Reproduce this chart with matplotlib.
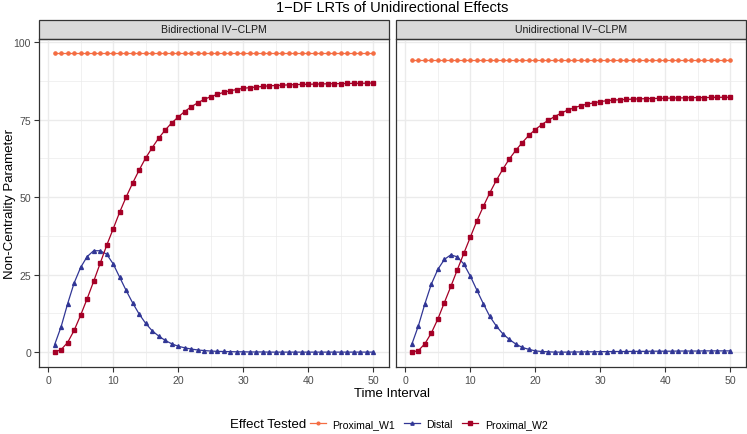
import numpy as np
import matplotlib
matplotlib.use("Agg")
import matplotlib.pyplot as plt
from matplotlib.patches import Rectangle
from matplotlib.lines import Line2D

plt.rcParams['font.family'] = ['Liberation Sans', 'DejaVu Sans']

time = np.arange(1, 51)
panels = ["Bidirectional IV\u2212CLPM", "Unidirectional IV\u2212CLPM"]
series = ["Proximal_W1", "Distal", "Proximal_W2"]
colors = {"Proximal_W1": "#F46D43", "Distal": "#313695", "Proximal_W2": "#A50026"}
markers = {"Proximal_W1": "o", "Distal": "^", "Proximal_W2": "s"}
msizes = {"Proximal_W1": 2.3, "Distal": 2.8, "Proximal_W2": 2.6}

# bidirectional panel
bi_w1 = [96.5] * 50
bi_distal = [2.4, 8.2, 15.6, 22.3, 27.3, 30.8, 32.7, 32.7, 31.6, 28.5,
             24.2, 19.9, 15.9, 12.3, 9.3, 6.9, 5.2, 3.8, 2.7, 1.9,
             1.4, 1.0, 0.7, 0.5, 0.35, 0.25, 0.2, 0.15, 0.1, 0.1,
             0.05, 0.05, 0.05, 0.0, 0.0, 0.0, 0.0, 0.0, 0.0, 0.0,
             0.0, 0.0, 0.0, 0.0, 0.0, 0.0, 0.0, 0.0, 0.0, 0.0]
bi_w2 = [0.0, 0.8, 3.1, 7.0, 11.9, 17.2, 22.8, 28.6, 34.4, 39.7,
         45.1, 50.0, 54.5, 58.7, 62.6, 65.9, 69.0, 71.6, 73.9, 75.8,
         77.6, 79.1, 80.4, 81.5, 82.4, 83.1, 83.8, 84.3, 84.7, 85.1,
         85.3, 85.5, 85.7, 85.9, 86.0, 86.1, 86.2, 86.3, 86.35, 86.4,
         86.45, 86.5, 86.55, 86.6, 86.6, 86.65, 86.7, 86.7, 86.75, 86.8]

# unidirectional panel
uni_w1 = [94.1] * 50
uni_distal = [2.6, 8.5, 15.6, 22.0, 26.7, 29.9, 31.4, 30.7, 28.4, 24.5,
              20.0, 15.6, 11.5, 8.4, 5.9, 4.1, 2.6, 1.5, 0.9, 0.4,
              0.2, 0.1, 0.0, 0.0, 0.0, 0.05, 0.05, 0.1, 0.1, 0.15,
              0.15, 0.2, 0.2, 0.2, 0.25, 0.25, 0.25, 0.3, 0.3, 0.3,
              0.3, 0.35, 0.35, 0.35, 0.35, 0.4, 0.4, 0.4, 0.4, 0.4]
uni_w2 = [0.0, 0.5, 2.7, 6.2, 10.7, 16.0, 21.2, 26.6, 31.9, 37.1,
          42.3, 47.0, 51.4, 55.4, 59.0, 62.3, 65.1, 67.6, 69.9, 71.8,
          73.4, 74.8, 76.0, 77.1, 78.1, 78.8, 79.5, 80.0, 80.4, 80.8,
          81.1, 81.3, 81.4, 81.5, 81.6, 81.7, 81.75, 81.8, 81.85, 81.9,
          81.95, 82.0, 82.0, 82.05, 82.1, 82.1, 82.15, 82.2, 82.2, 82.2]

data = [
    {"Proximal_W1": bi_w1, "Distal": bi_distal, "Proximal_W2": bi_w2},
    {"Proximal_W1": uni_w1, "Distal": uni_distal, "Proximal_W2": uni_w2},
]

W, H = 747, 435
fig = plt.figure(figsize=(W / 100, H / 100), dpi=100)

def fx(px):
    return px / W

def fy(py):
    return 1 - py / H

ptop, pbot = 40, 368
panel_x = [(38.7, 389), (396, 746)]
strip_h = (40 - 20.7) / (pbot - ptop)

axes = []
for i, (x0, x1) in enumerate(panel_x):
    ax = fig.add_axes([fx(x0), fy(pbot), fx(x1 - x0), (pbot - ptop) / H])
    axes.append(ax)
    for s in series:
        ax.plot(time, data[i][s], color=colors[s], marker=markers[s],
                markersize=msizes[s], lw=0.9, zorder=3)
    ax.set_xlim(-1.45, 52.45)
    ax.set_ylim(-4.8, 101.0)
    ax.set_xticks([0, 10, 20, 30, 40, 50])
    ax.set_yticks([0, 25, 50, 75, 100])
    ax.set_xticks([5, 15, 25, 35, 45], minor=True)
    ax.set_yticks([12.5, 37.5, 62.5, 87.5], minor=True)
    ax.grid(True, which='major', color='#EBEBEB', lw=1.0, zorder=0)
    ax.grid(True, which='minor', color='#EBEBEB', lw=0.5, zorder=0)
    ax.tick_params(which='minor', length=0)
    ax.tick_params(which='major', length=3.5, width=0.8, color='#333333',
                   labelsize=7.6, labelcolor='#4D4D4D', pad=2)
    for sp in ax.spines.values():
        sp.set_color('#333333')
        sp.set_linewidth(0.9)
    if i == 1:
        ax.tick_params(axis='y', which='both', left=False, labelleft=False)
    ax.add_patch(Rectangle((0, 1), 1, strip_h, transform=ax.transAxes,
                           facecolor='#D9D9D9', edgecolor='#333333', lw=0.9,
                           clip_on=False))
    ax.text(0.5, 1 + strip_h / 2, panels[i], transform=ax.transAxes,
            ha='center', va='center', fontsize=7.6, color='#1A1A1A')

fig.text(fx(392), fy(8), "1\u2212DF LRTs of Unidirectional Effects",
         ha='center', va='center', fontsize=10.5)
fig.text(fx(392), fy(394), "Time Interval", ha='center', va='center', fontsize=9.5)
fig.text(fx(10), fy(204), "Non-Centrality Parameter", ha='center', va='center',
         rotation=90, fontsize=9.5)

handles = [Line2D([0], [0], color=colors[s], marker=markers[s],
                  markersize=msizes[s] * 0.85, lw=0.9)
           for s in series]
fig.text(fx(306), fy(425), "Effect Tested", ha='right', va='center', fontsize=9.5)
fig.legend(handles, series, loc='center left', bbox_to_anchor=(fx(310), fy(425)),
           ncol=3, frameon=False, fontsize=7.6, handlelength=1.5,
           handletextpad=0.6, columnspacing=0.9, borderpad=0, borderaxespad=0)

fig.savefig("out.png", dpi=100)
